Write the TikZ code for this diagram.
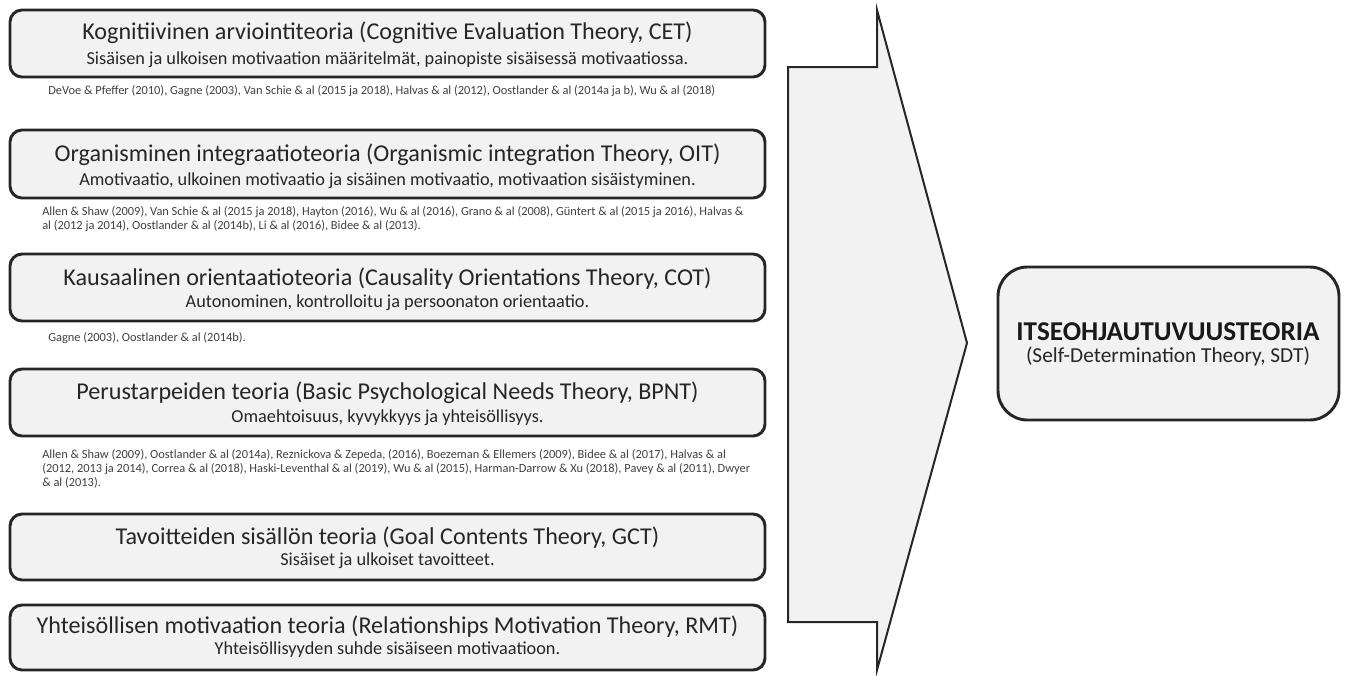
\documentclass[tikz,border=0pt]{standalone}
\usepackage{fontspec}
\setmainfont{Carlito}
\begin{document}
\begin{tikzpicture}[x=0.75pt,y=-0.75pt,
  theorybox/.style={draw=black!85,line width=2.2pt,fill=black!5,rounded corners=9pt},
  ttl/.style={font=\fontsize{18.1}{20}\selectfont,text=black!85,inner sep=0pt},
  sub/.style={font=\fontsize{13.7}{15}\selectfont,text=black!85,inner sep=0pt},
  refs/.style={font=\fontsize{9.3}{10.5}\selectfont,text=black!75,inner sep=0pt,anchor=north west,align=left}]
\useasboundingbox (0,0) rectangle (1346,675);
% big arrow
\draw[draw=black!85,line width=1.5pt,fill=black!5,line join=miter]
  (788,67) coordinate (a1) -- (877,67) coordinate (a2) -- (877,10) coordinate (a3)
  -- (967,343) coordinate (tip) -- (877,670) coordinate (a5) -- (877,622) coordinate (a6)
  -- (788,622) coordinate (a7) -- cycle;
% boxes
\draw[theorybox] (10,10) rectangle (765,77);
\node[ttl] (t1) at (387.5,33) {Kognitiivinen arviointiteoria (Cognitive Evaluation Theory, CET)};
\node[sub] (s1) at (387.5,60) {Sisäisen ja ulkoisen motivaation määritelmät, painopiste sisäisessä motivaatiossa.};
\node[refs] (r1) at (48,85) {DeVoe \& Pfeffer (2010), Gagne (2003), Van Schie \& al (2015 ja 2018), Halvas \& al (2012), Oostlander \& al (2014a ja b), Wu \& al (2018)};

\draw[theorybox] (10,130) rectangle (765,198);
\node[ttl] (t2) at (387.5,155) {Organisminen integraatioteoria (Organismic integration Theory, OIT)};
\node[sub] (s2) at (387.5,181) {Amotivaatio, ulkoinen motivaatio ja sisäinen motivaatio, motivaation sisäistyminen.};
\node[refs] (r2) at (42,206) {Allen \& Shaw (2009), Van Schie \& al (2015 ja 2018), Hayton (2016), Wu \& al (2016), Grano \& al (2008), Güntert \& al (2015 ja 2016), Halvas \&\\al (2012 ja 2014), Oostlander \& al (2014b), Li \& al (2016), Bidee \& al (2013).};

\draw[theorybox] (10,254) rectangle (765,321);
\node[ttl] (t3) at (387.5,279) {Kausaalinen orientaatioteoria (Causality Orientations Theory, COT)};
\node[sub] (s3) at (387.5,303) {Autonominen, kontrolloitu ja persoonaton orientaatio.};
\node[refs] (r3) at (48,332) {Gagne (2003), Oostlander \& al (2014b).};

\draw[theorybox] (10,369) rectangle (765,436);
\node[ttl] (t4) at (387.5,393) {Perustarpeiden teoria (Basic Psychological Needs Theory, BPNT)};
\node[sub] (s4) at (387.5,418) {Omaehtoisuus, kyvykkyys ja yhteisöllisyys.};
\node[refs] (r4) at (42,449) {Allen \& Shaw (2009), Oostlander \& al (2014a), Reznickova \& Zepeda, (2016), Boezeman \& Ellemers (2009), Bidee \& al (2017), Halvas \& al\\(2012, 2013 ja 2014), Correa \& al (2018), Haski-Leventhal \& al (2019), Wu \& al (2015), Harman-Darrow \& Xu (2018), Pavey \& al (2011), Dwyer\\\& al (2013).};

\draw[theorybox] (10,514) rectangle (765,580);
\node[ttl] (t5) at (387.5,538) {Tavoitteiden sisällön teoria (Goal Contents Theory, GCT)};
\node[sub] (s5) at (387.5,561) {Sisäiset ja ulkoiset tavoitteet.};

\draw[theorybox] (10,605) rectangle (765,670);
\node[ttl] (t6) at (387.5,627) {Yhteisöllisen motivaation teoria (Relationships Motivation Theory, RMT)};
\node[sub] (s6) at (387.5,650) {Yhteisöllisyyden suhde sisäiseen motivaatioon.};

% SDT box
\draw[draw=black!85,line width=2.2pt,fill=black!5,rounded corners=22pt] (998,267) rectangle (1339,420);
\node[inner sep=0pt,text=black!90,font=\fontsize{20.4}{22}\selectfont\bfseries] (sdt) at (1168,332) {ITSEOHJAUTUVUUSTEORIA};
\node[inner sep=0pt,text=black!85,font=\fontsize{16}{18}\selectfont] (sdts) at (1168,356) {(Self-Determination Theory, SDT)};
\end{tikzpicture}
\end{document}
